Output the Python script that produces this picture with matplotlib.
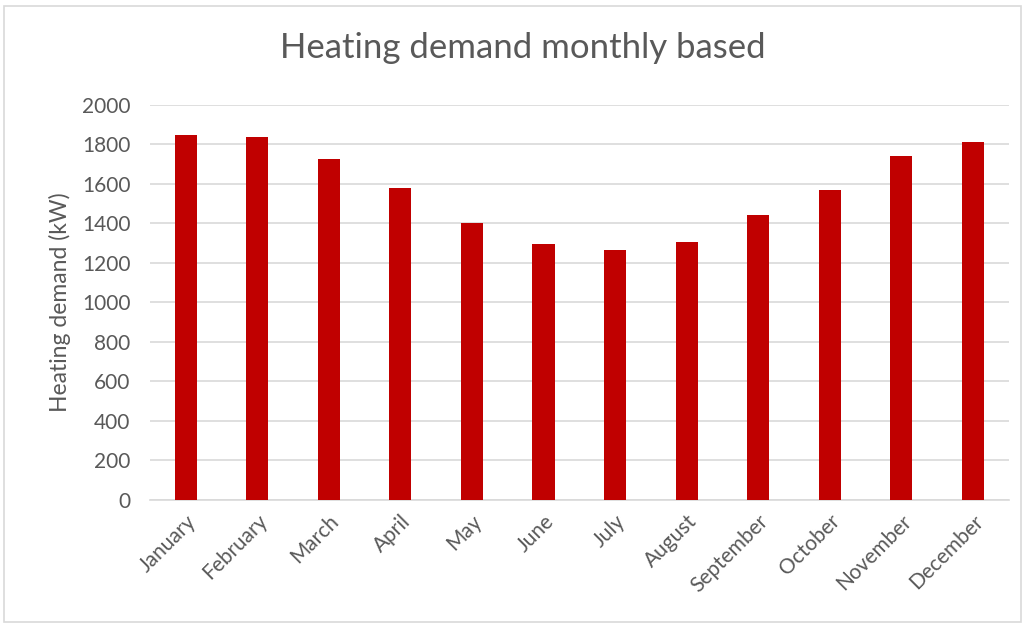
import matplotlib.pyplot as plt
from matplotlib.patches import Rectangle

months = ["January", "February", "March", "April", "May", "June", "July",
          "August", "September", "October", "November", "December"]
demand = [1849, 1836, 1729, 1579, 1403, 1297, 1265, 1307, 1441, 1572, 1740, 1811]
yticks = [0, 200, 400, 600, 800, 1000, 1200, 1400, 1600, 1800, 2000]

plt.rcParams['font.family'] = ['Lato', 'DejaVu Sans']
text_col = "#595959"

fig = plt.figure(figsize=(10.25, 6.26), dpi=100)
ax = fig.add_axes([0.1463, 0.2013, 0.8377, 0.631])

ax.bar(range(len(months)), demand, width=0.31, color="#c00000", zorder=3)

ax.set_xlim(-0.5, len(months) - 0.5)
ax.set_ylim(0, 2000)
ax.set_yticks(yticks)
ax.set_yticklabels([str(t) for t in yticks], fontsize=15, color=text_col)
ax.set_xticks(range(len(months)))
ax.set_xticklabels(months, rotation=45, ha="right", rotation_mode="anchor",
                   fontsize=15, color=text_col)

ax.grid(axis="y", color="#d9d9d9", linewidth=1.2, zorder=0)
for s in ["top", "right", "left"]:
    ax.spines[s].set_visible(False)
ax.spines["bottom"].set_color("#d9d9d9")
ax.spines["bottom"].set_linewidth(1.2)
ax.tick_params(axis="y", length=0, pad=14)
ax.tick_params(axis="x", length=0, pad=8)

ax.set_ylabel("Heating demand (kW)", fontsize=16.5, color=text_col, labelpad=8)
fig.text(0.51, 0.923, "Heating demand monthly based", ha="center", va="center",
         fontsize=25, color=text_col)

fig.patches.append(Rectangle((0.004, 0.006), 0.992, 0.985, transform=fig.transFigure,
                             fill=False, edgecolor="#d9d9d9", linewidth=1.2))

fig.savefig("out.png", dpi=100)
